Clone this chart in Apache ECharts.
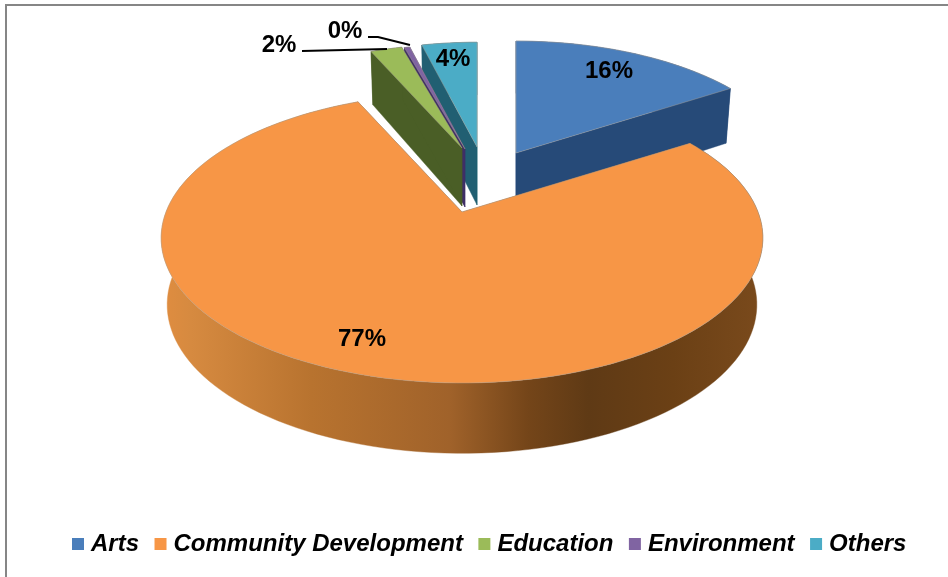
<!DOCTYPE html>
<html><head><meta charset="utf-8">
<style>html,body{margin:0;padding:0;background:#fff}#c{width:948px;height:577px}</style>
<script src="https://cdn.jsdelivr.net/npm/echarts@6/dist/echarts.min.js"></script>
</head><body><div id="c"></div>
<script>
const categories = ['Arts','Community Development','Education','Environment','Others'];
const shares = [16, 77.3, 2.3, 0.4, 4.0];
const labels = ['16%','77%','2%','0%','4%'];

const topColors = ['#4a7ebb','#f79646','#9bbb59','#8064a2','#4bacc6'];
const cutColors = ['#264a78','#a5652a','#4a5e26','#3f2f66','#215f72'];
const wallStops = [
  [[0,'#264a78'],[1,'#264a78']],
  [[0,'#e08d40'],[0.05,'#d68a40'],[0.25,'#b8732f'],[0.48,'#a0622a'],[0.61,'#744519'],[0.71,'#5f3a15'],[0.85,'#6b4015'],[1,'#7a4a1c']],
  [[0,'#4a5e26'],[1,'#4a5e26']],
  [[0,'#3f2f66'],[1,'#3f2f66']],
  [[0,'#215f72'],[1,'#215f72']]
];
const apexes = [[516,153],[462,212],[462,148],[465,149],[477,147]];
const scales = [0.94,1,0.875,0.88,0.88];
const layers = [4,5,3,2,1];
const depths = [[58,0.05],[66,0.025],[58,0.05],[58,0.05],[58,0.05]];
const labelPos = [[609,71],[362,339],[279,45],[345,31],[453,59]];
const leaders = [null,null,[[302,51],[387,49]],[[368,37],[378,37],[410,45]],null];

const A = 296, B = 140.4, P = 0.179;
const total = shares.reduce((a,b)=>a+b,0);
function rel(theta,s){
  const w = 1 + P*Math.cos(theta);
  return [A*s*Math.sin(theta)/w, -B*s*Math.cos(theta)/w];
}
function topPt(i,theta){
  const r = rel(theta,scales[i]);
  return [apexes[i][0]+r[0], apexes[i][1]+r[1]];
}
function botPt(i,theta){
  const r = theta===null ? [0,0] : rel(theta,scales[i]);
  return [apexes[i][0]+r[0]*0.98, apexes[i][1]+r[1]+depths[i][0]+depths[i][1]*r[1]];
}
function arc(a,b,fn){
  const n = Math.max(2,Math.ceil((b-a)/(Math.PI/90))), out=[];
  for(let k=0;k<=n;k++) out.push(fn(a+(b-a)*k/n));
  return out;
}
function makeRender(i){
  return function(){
    const before = shares.slice(0,i).reduce((a,b)=>a+b,0);
    const a0 = before/total*2*Math.PI, a1 = (before+shares[i])/total*2*Math.PI;
    const rimTop = arc(a0,a1,t=>topPt(i,t));
    const rimBot = arc(a0,a1,t=>botPt(i,t));
    const apex = apexes[i], apexB = botPt(i,null);
    const poly = (pts,fill,stroke)=>({type:'polygon',shape:{points:pts},style:{fill:fill,stroke:stroke||fill,lineWidth:stroke?0.8:0.4}});
    const grad = {type:'linear',x:0,y:0,x2:1,y2:0,colorStops:wallStops[i].map(s=>({offset:s[0],color:s[1]}))};
    const children = [
      poly(rimTop.concat(rimBot.slice().reverse()),grad),
      poly([apex,rimTop[0],rimBot[0],apexB],cutColors[i]),
      poly([apex,rimTop[rimTop.length-1],rimBot[rimBot.length-1],apexB],cutColors[i]),
      poly([apex].concat(rimTop),topColors[i],'rgba(170,160,150,0.55)')
    ];
    if(leaders[i]) children.push({type:'polyline',shape:{points:leaders[i]},style:{fill:null,stroke:'#000',lineWidth:2}});
    children.push({type:'text',x:labelPos[i][0],y:labelPos[i][1],style:{text:labels[i],fill:'#000',
      font:'bold 24px "Liberation Sans", Arial, sans-serif',align:'center',verticalAlign:'middle'}});
    return {type:'group',children};
  };
}
const chart = echarts.init(document.getElementById('c'),null,{renderer:'canvas'});
chart.setOption({
  animation:false,
  backgroundColor:'#fff',
  legend:{
    left:67, top:527, itemWidth:12, itemHeight:12, itemGap:15.5, icon:'rect',
    data:categories,
    textStyle:{color:'#000',fontFamily:'"Liberation Sans", Arial, sans-serif',fontSize:24,fontWeight:'bold',fontStyle:'italic',padding:[0,0,0,2]}
  },
  graphic:[{type:'polyline',silent:true,shape:{points:[[6,577],[6,5],[948,5]]},style:{fill:null,stroke:'#868686',lineWidth:2}}],
  series:categories.map((name,i)=>({
    type:'custom',name,coordinateSystem:'none',z:layers[i],
    itemStyle:{color:topColors[i]},
    data:[[shares[i]]],
    renderItem:makeRender(i)
  }))
});
</script></body></html>
